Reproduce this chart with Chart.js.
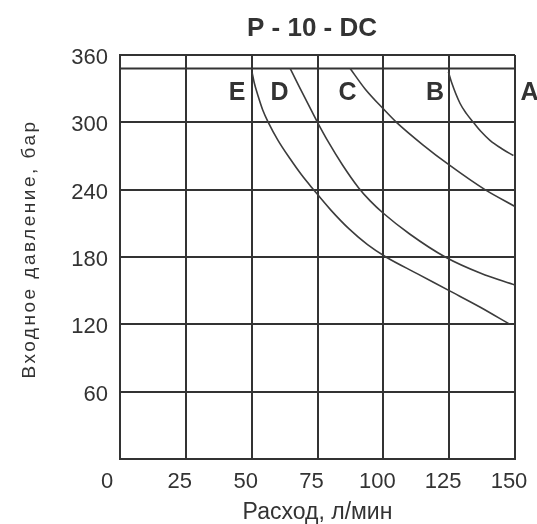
<!DOCTYPE html>
<html>
<head>
<meta charset="utf-8">
<script src="https://cdn.jsdelivr.net/npm/chart.js@4/dist/chart.umd.min.js"></script>
<style>
  html, body { margin: 0; padding: 0; background: #fff; }
  #wrap { width: 537px; height: 524px; }
</style>
</head>
<body>
<div id="wrap"><canvas id="c" width="537" height="524"></canvas></div>
<script>
// ---- data ----
const chartTitle = 'P - 10 - DC';
const xAxisTitle = 'Расход, л/мин';
const yAxisTitle = 'Входное давление, бар';
const xTicks = [0, 25, 50, 75, 100, 125, 150];
const yTicks = [0, 60, 120, 180, 240, 300, 360];
const yHiddenTickLabels = [0];
const originLabel = '0';

// curve E
const curveE_x = [50.2, 51, 52.5, 54.2, 56.3, 60, 64.6, 69, 73.5, 80, 87, 94, 101, 113, 125, 137, 148];
const curveE_y = [344, 335, 323, 311, 300, 284, 267.5, 253, 240, 222, 205, 191, 180, 165, 150, 135, 120];
// curve D
const curveD_x = [64.6, 68, 71.5, 75, 79, 84.5, 90.5, 95, 100, 110, 123.5, 137, 150];
const curveD_y = [348, 332, 316, 300, 283, 262, 242, 230, 219, 200.5, 180, 165.5, 155];
// curve C
const curveC_x = [87.4, 93, 100, 105, 115, 125, 138.6, 150];
const curveC_y = [348, 330, 312, 300, 280, 262, 240, 225];
// curve B
const curveB_x = [124.7, 126, 129.1, 131.5, 134.2, 137, 140.5, 145, 149.4];
const curveB_y = [345, 335, 317, 308, 300, 292, 284, 276.5, 270.4];
// upper limit line
const limitLine_x = [0, 150];
const limitLine_y = [348, 348];

// curve letters (label, x value, y value)
const curveLabels = ['E', 'D', 'C', 'B', 'A'];
const curveLabelX = [44.5, 60.6, 86.4, 119.6, 155.5];
const curveLabelY = [326, 326, 326, 326, 326];

// ---- build ----
const pts = (xs, ys) => xs.map((x, i) => ({ x: x, y: ys[i] }));
const INK = '#333333';
const FONT = "'Liberation Sans', Arial, sans-serif";

const curveStyle = {
  borderColor: '#3c3c3c',
  borderWidth: 1.6,
  pointRadius: 0,
  fill: false,
  cubicInterpolationMode: 'monotone'
};

const overlay = {
  id: 'overlay',
  afterDraw(chart) {
    const ctx = chart.ctx;
    const xs = chart.scales.x, ys = chart.scales.y;
    ctx.save();
    ctx.fillStyle = INK;
    ctx.textAlign = 'center';
    ctx.textBaseline = 'middle';
    // title
    ctx.font = "bold 26px " + FONT;
    ctx.fillText(chartTitle, 312, 29);
    // curve letters
    ctx.font = "bold 25px " + FONT;
    curveLabels.forEach((t, i) => {
      ctx.fillText(t, xs.getPixelForValue(curveLabelX[i]), ys.getPixelForValue(curveLabelY[i]));
    });
    // shared origin label, set left of the corner
    ctx.font = "22px " + FONT;
    ctx.fillText(originLabel, xs.getPixelForValue(xTicks[0]) - 13, chart.chartArea.bottom + 10 + 13.2);
    // y axis title (letter-spaced)
    ctx.translate(30, (chart.chartArea.top + chart.chartArea.bottom) / 2 - 8);
    ctx.rotate(-Math.PI / 2);
    ctx.font = "19px " + FONT;
    if ('letterSpacing' in ctx) ctx.letterSpacing = '2.5px';
    ctx.fillText(yAxisTitle, 0, 0);
    ctx.restore();
  }
};

new Chart(document.getElementById('c'), {
  type: 'line',
  data: {
    datasets: [
      Object.assign({ label: 'E', data: pts(curveE_x, curveE_y) }, curveStyle),
      Object.assign({ label: 'D', data: pts(curveD_x, curveD_y) }, curveStyle),
      Object.assign({ label: 'C', data: pts(curveC_x, curveC_y) }, curveStyle),
      Object.assign({ label: 'B', data: pts(curveB_x, curveB_y) }, curveStyle),
      { label: 'limit', data: pts(limitLine_x, limitLine_y), borderColor: INK, borderWidth: 2, pointRadius: 0, fill: false }
    ]
  },
  options: {
    responsive: false,
    animation: false,
    layout: { padding: { top: 55, right: 22, left: 0, bottom: 0 } },
    plugins: { legend: { display: false }, tooltip: { enabled: false }, title: { display: false } },
    scales: {
      x: {
        type: 'linear',
        min: xTicks[0], max: xTicks[xTicks.length - 1],
        afterBuildTicks: (s) => { s.ticks = xTicks.map(v => ({ value: v })); },
        afterFit: (s) => { s.height = 65; s.paddingLeft = 0; s.paddingRight = 0; },
        grid: { color: INK, lineWidth: 2, drawTicks: false },
        border: { color: INK, width: 2 },
        ticks: { color: INK, font: { family: FONT, size: 22 }, padding: 10, labelOffset: -6, maxRotation: 0, autoSkip: false,
                 callback: (v) => v === xTicks[0] ? '' : String(v) },
        title: { display: true, text: xAxisTitle, color: INK, font: { family: FONT, size: 23, lineHeight: 1 }, padding: 0 }
      },
      y: {
        type: 'linear',
        min: yTicks[0], max: yTicks[yTicks.length - 1],
        afterBuildTicks: (s) => { s.ticks = yTicks.map(v => ({ value: v })); },
        afterFit: (s) => { s.width = 120; s.paddingTop = 0; s.paddingBottom = 0; },
        grid: { color: INK, lineWidth: 2, drawTicks: false },
        border: { color: INK, width: 2 },
        ticks: { color: INK, font: { family: FONT, size: 22 }, padding: 12, labelOffset: 3,
                 callback: (v) => yHiddenTickLabels.includes(v) ? '' : String(v) }
      }
    }
  },
  plugins: [overlay]
});
</script>
</body>
</html>
